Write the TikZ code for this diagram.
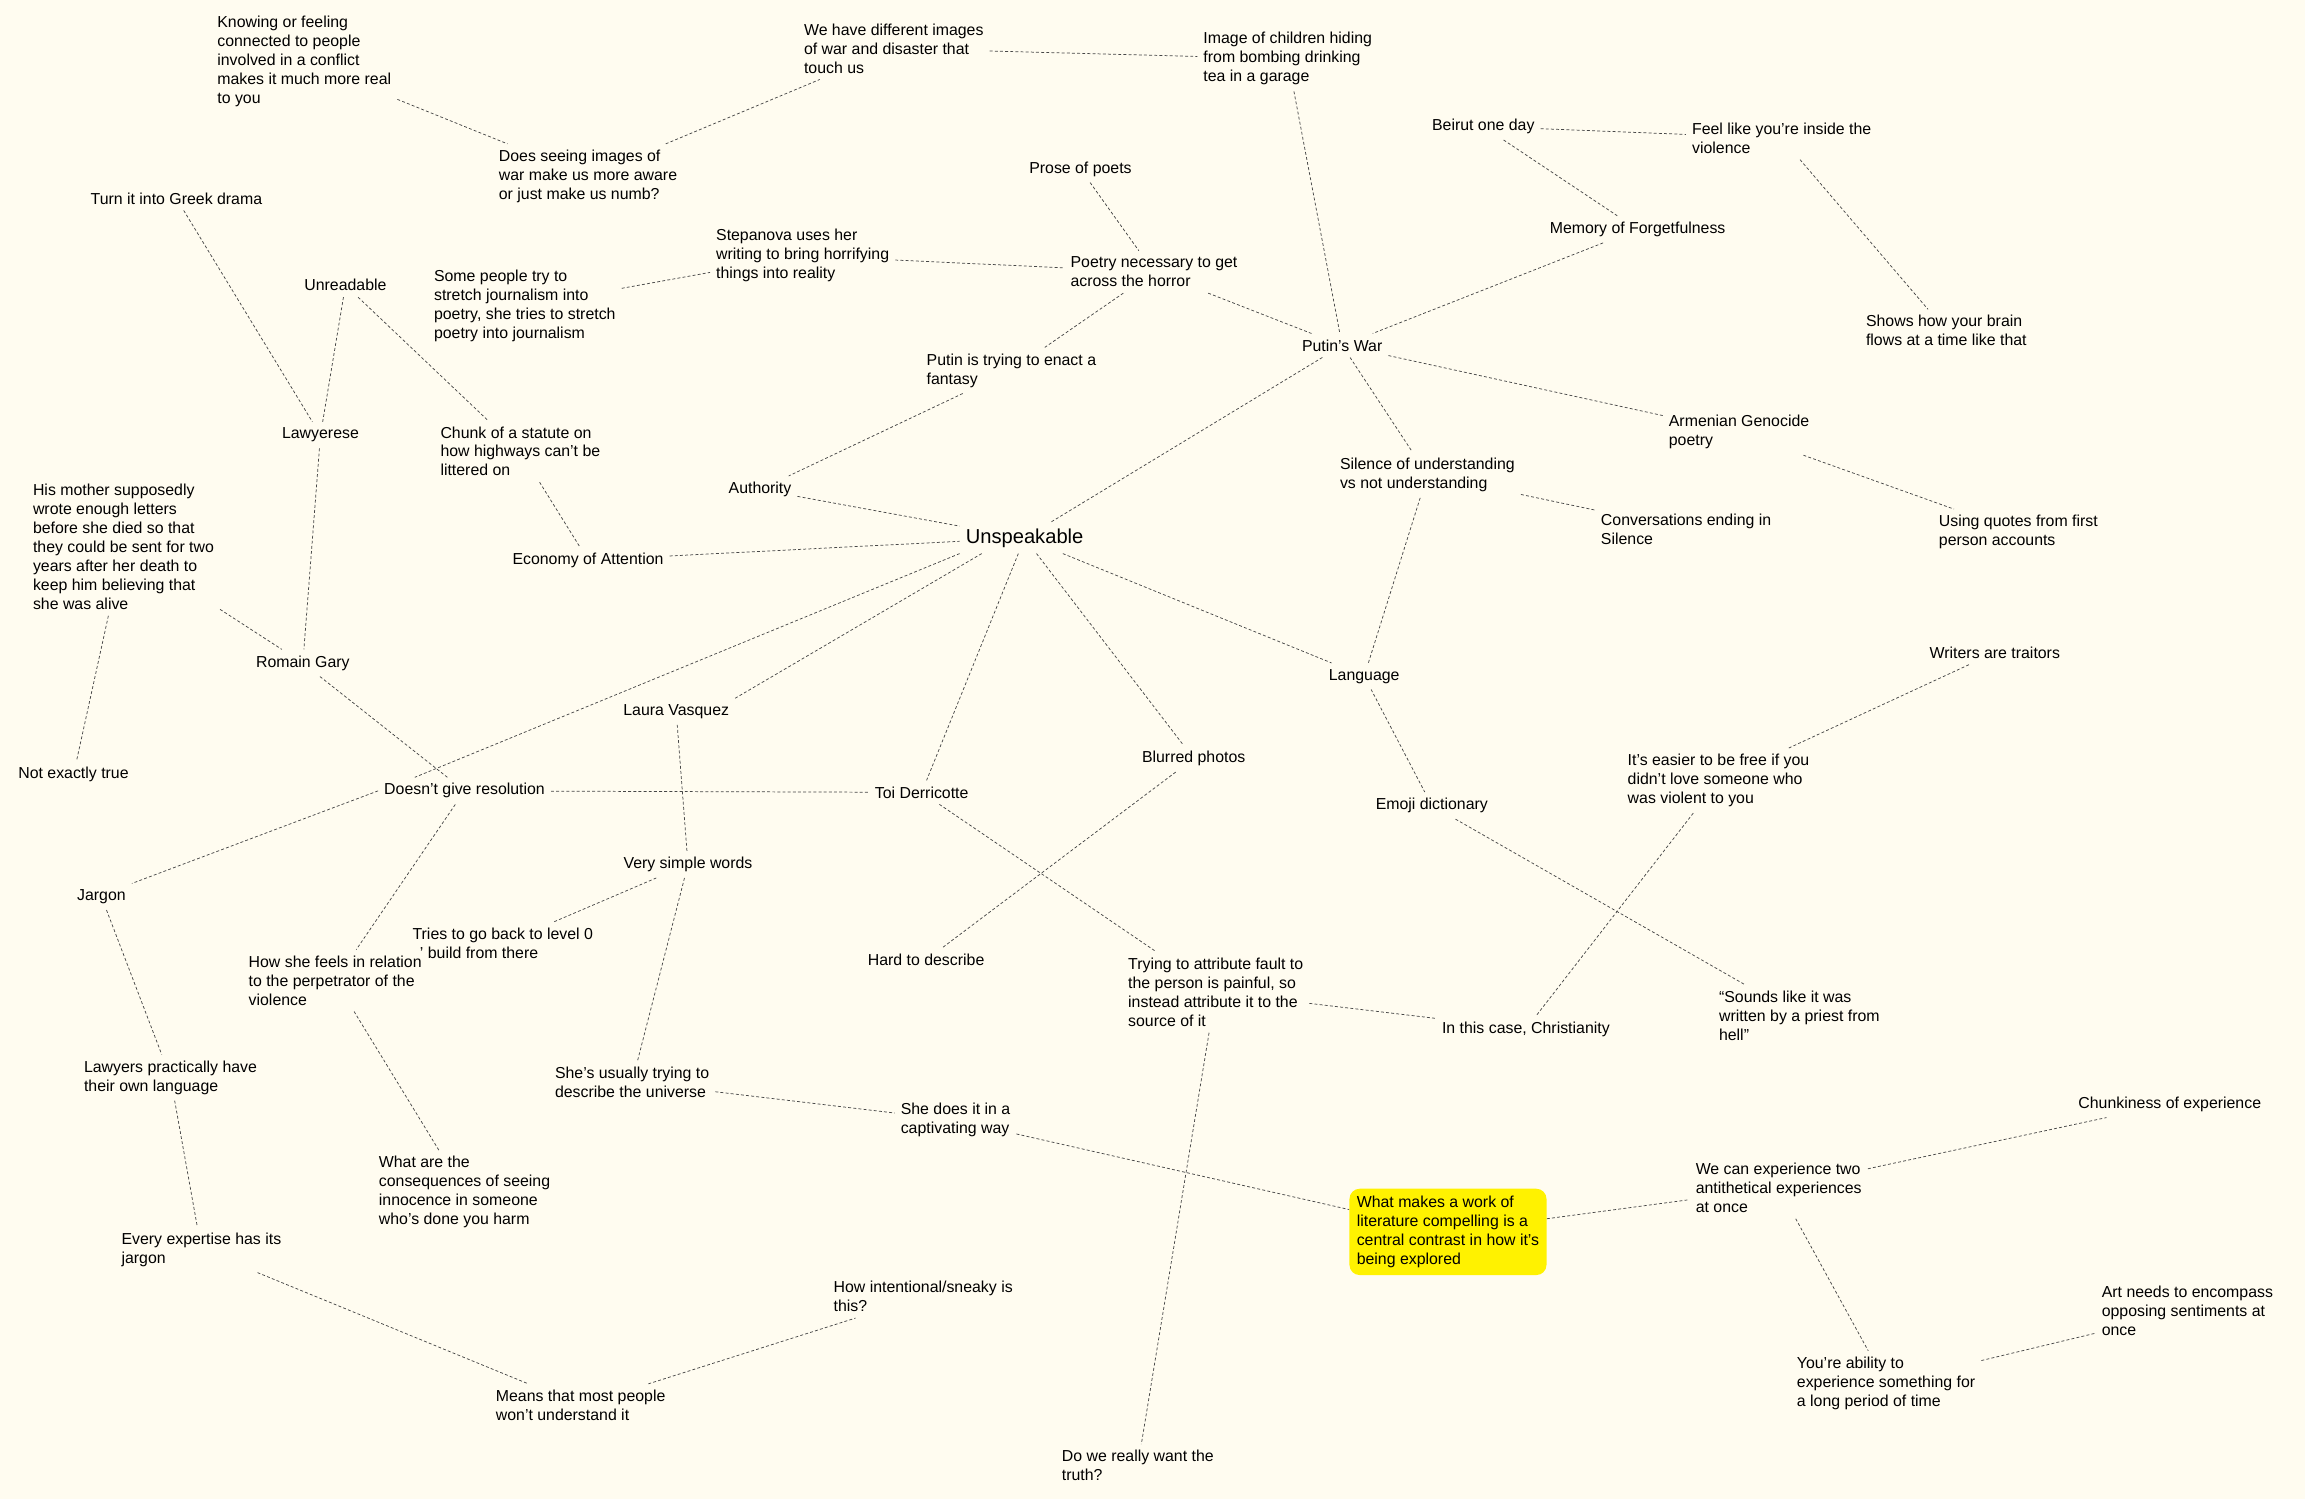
\documentclass[tikz,border=0pt]{standalone}
\usepackage{fontspec}
\setmainfont{Liberation Sans}
\definecolor{paper}{RGB}{255,252,240}
\definecolor{linkgray}{RGB}{70,70,70}
\tikzset{
  txt/.style={align=left, inner sep=4pt, yshift=-1pt, font=\fontsize{10.8}{12.9}\selectfont},
  big/.style={txt, font=\fontsize{13.7}{16}\selectfont},
  hilite/.style={txt, fill=yellow, rounded corners=7pt, inner sep=5pt},
  link/.style={draw=linkgray, line width=0.5pt, dash pattern=on 2pt off 1.5pt}
}
\begin{document}
\begin{tikzpicture}[x=1pt, y=-1pt]
 \fill[paper] (0,0) rectangle (1568,1020);
 \useasboundingbox (0,0) rectangle (1568,1020);

 % top row
 \node[txt] (know) at (207,41) {Knowing or feeling\\connected to people\\involved in a conflict\\makes it much more real\\to you};
 \node[txt] (does) at (400,119) {Does seeing images of\\war make us more aware\\or just make us numb?};
 \node[txt] (wehave) at (608,32) {We have different images\\of war and disaster that\\touch us};
 \node[txt] (image) at (876,39) {Image of children hiding\\from bombing drinking\\tea in a garage};
 \node[txt] (beirut) at (1009,85) {Beirut one day};
 \node[txt] (feel) at (1212,93) {Feel like you’re inside the\\violence};
 \node[txt] (shows) at (1324,224) {Shows how your brain\\flows at a time like that};
 \node[txt] (memory) at (1114,155) {Memory of Forgetfulness};
 \node[txt] (prose) at (735,114) {Prose of poets};
 \node[txt] (poetry) at (785,184) {Poetry necessary to get\\across the horror};
 \node[txt] (stepanova) at (546,173) {Stepanova uses her\\writing to bring horrifying\\things into reality};
 \node[txt] (some) at (357,207) {Some people try to\\stretch journalism into\\poetry, she tries to stretch\\poetry into journalism};
 \node[txt] (greek) at (120,134) {Turn it into Greek drama};
 \node[txt] (unreadable) at (235,193) {Unreadable};
 \node[txt] (lawyerese) at (218,295) {Lawyerese};
 \node[txt] (chunk) at (354,306) {Chunk of a statute on\\how highways can’t be\\littered on};
 \node[txt] (putintrying) at (688,251) {Putin is trying to enact a\\fantasy};
 \node[txt] (putinswar) at (913,234) {Putin’s War};
 \node[txt] (armenian) at (1183,293) {Armenian Genocide\\poetry};
 \node[txt] (using) at (1373,361) {Using quotes from first\\person accounts};
 \node[txt] (silence) at (971,322) {Silence of understanding\\vs not understanding};
 \node[txt] (conversations) at (1147,359) {Conversations ending in\\Silence};
 \node[txt] (authority) at (517,332) {Authority};
 \node[big] (unspeakable) at (697,365) {Unspeakable};
 \node[txt] (economy) at (400,380) {Economy of Attention};

 % middle
 \node[txt] (hismother) at (84,371) {His mother supposedly\\wrote enough letters\\before she died so that\\they could be sent for two\\years after her death to\\keep him believing that\\she was alive};
 \node[txt] (romain) at (206,450) {Romain Gary};
 \node[txt] (notexactly) at (50,526) {Not exactly true};
 \node[txt] (laura) at (460,483) {Laura Vasquez};
 \node[txt] (doesnt) at (316,537) {Doesn’t give resolution};
 \node[txt] (toi) at (627,538) {Toi Derricotte};
 \node[txt] (blurred) at (812,515) {Blurred photos};
 \node[txt] (language) at (928,459) {Language};
 \node[txt] (emoji) at (974,547) {Emoji dictionary};
 \node[txt] (writers) at (1357,443) {Writers are traitors};
 \node[txt] (easier) at (1169,530) {It’s easier to be free if you\\didn’t love someone who\\was violent to you};
 \node[txt] (jargon) at (69,609) {Jargon};
 \node[txt] (verysimple) at (468,587) {Very simple words};
 \node[txt] (tries) at (342,641) {Tries to go back to level 0\\\hspace*{5pt}’ build from there};
 \node[txt] (howshe) at (228,666) {How she feels in relation\\to the perpetrator of the\\violence};
 \node[txt] (hard) at (630,652) {Hard to describe};
 \node[txt] (trying) at (827,674) {Trying to attribute fault to\\the person is painful, so\\instead attribute it to the\\source of it};
 \node[txt] (christianity) at (1038,699) {In this case, Christianity};
 \node[txt] (sounds) at (1224,690) {“Sounds like it was\\written by a priest from\\hell”};

 % bottom
 \node[txt] (lawyers) at (116,732) {Lawyers practically have\\their own language};
 \node[txt] (consequences) at (316,810) {What are the\\consequences of seeing\\innocence in someone\\who’s done you harm};
 \node[txt] (shesusually) at (430,735) {She’s usually trying to\\describe the universe};
 \node[txt] (captivating) at (650,761) {She does it in a\\captivating way};
 \node[hilite] (whatmakes) at (985,837) {What makes a work of\\literature compelling is a\\central contrast in how it’s\\being explored};
 \node[txt] (wecan) at (1210,807) {We can experience two\\antithetical experiences\\at once};
 \node[txt] (chunkiness) at (1476,750) {Chunkiness of experience};
 \node[txt] (artneeds) at (1488,891) {Art needs to encompass\\opposing sentiments at\\once};
 \node[txt] (yourability) at (1283,940) {You’re ability to\\experience something for\\a long period of time};
 \node[txt] (every) at (137,849) {Every expertise has its\\jargon};
 \node[txt] (means) at (395,955) {Means that most people\\won’t understand it};
 \node[txt] (howintentional) at (628,881) {How intentional/sneaky is\\this?};
 \node[txt] (dowe) at (774,996) {Do we really want the\\truth?};

 % links
 \draw[link] (know) -- (does);
 \draw[link] (does) -- (wehave);
 \draw[link] (wehave) -- (image);
 \draw[link] (image) -- (putinswar);
 \draw[link] (beirut) -- (feel);
 \draw[link] (beirut) -- (memory);
 \draw[link] (feel) -- (shows);
 \draw[link] (memory) -- (putinswar);
 \draw[link] (prose) -- (poetry);
 \draw[link] (stepanova) -- (poetry);
 \draw[link] (some) -- (stepanova);
 \draw[link] (poetry) -- (putintrying);
 \draw[link] (poetry) -- (putinswar);
 \draw[link] (putintrying) -- (authority);
 \draw[link] (putinswar) -- (unspeakable);
 \draw[link] (putinswar) -- (silence);
 \draw[link] (putinswar) -- (armenian);
 \draw[link] (armenian) -- (using);
 \draw[link] (silence) -- (conversations);
 \draw[link] (silence) -- (language);
 \draw[link] (greek) -- (lawyerese);
 \draw[link] (unreadable) -- (lawyerese);
 \draw[link] (unreadable) -- (chunk);
 \draw[link] (lawyerese) -- (romain);
 \draw[link] (chunk) -- (economy);
 \draw[link] (authority) -- (unspeakable);
 \draw[link] (economy) -- (unspeakable);
 \draw[link] (hismother) -- (romain);
 \draw[link] (hismother) -- (notexactly);
 \draw[link] (romain) -- (doesnt);
 \draw[link] (unspeakable.south west) -- ([xshift=25pt]doesnt.north west);
 \draw[link] ([xshift=15pt]unspeakable.south west) -- (laura.north east);
 \draw[link] (unspeakable) -- (toi);
 \draw[link] (unspeakable) -- (blurred);
 \draw[link] (unspeakable) -- (language);
 \draw[link] (language) -- (emoji);
 \draw[link] (laura) -- (verysimple);
 \draw[link] (doesnt) -- (toi);
 \draw[link] (doesnt.west) -- (jargon.north east);
 \draw[link] (doesnt) -- (howshe);
 \draw[link] (verysimple) -- (tries);
 \draw[link] (verysimple) -- (shesusually);
 \draw[link] (toi) -- (trying);
 \draw[link] (blurred) -- (hard);
 \draw[link] (emoji) -- (sounds);
 \draw[link] (easier) -- (christianity);
 \draw[link] (writers) -- (easier);
 \draw[link] (trying) -- (christianity);
 \draw[link] (trying) -- (dowe);
 \draw[link] (jargon) -- (lawyers);
 \draw[link] (lawyers) -- (every);
 \draw[link] (howshe) -- (consequences);
 \draw[link] (shesusually) -- (captivating);
 \draw[link] (captivating) -- (whatmakes);
 \draw[link] (whatmakes) -- (wecan);
 \draw[link] (wecan) -- (chunkiness);
 \draw[link] (wecan) -- (yourability);
 \draw[link] (yourability) -- (artneeds);
 \draw[link] (every) -- (means);
 \draw[link] (means) -- (howintentional);
\end{tikzpicture}
\end{document}
